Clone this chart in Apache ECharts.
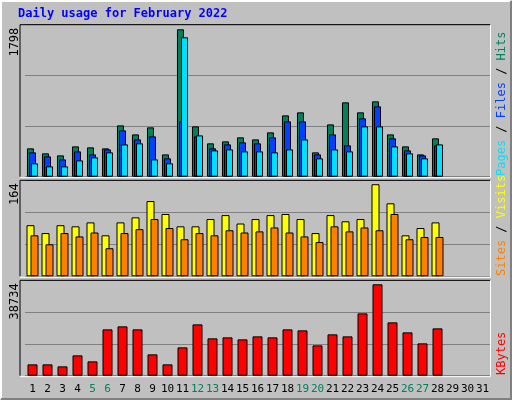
<!DOCTYPE html>
<html><head><meta charset="utf-8">
<script src="https://cdn.jsdelivr.net/npm/echarts@6/dist/echarts.min.js"></script>
<style>html,body{margin:0;padding:0;background:#c0c0c0}#c{width:512px;height:400px}</style>
</head><body><div id="c"></div>
<script>
const days = Array.from({length:31},(_,i)=>String(i+1));
const weekends = ['5','6','12','13','19','20','26','27'];
const hits  = [346,285,260,370,358,346,626,516,602,272,1798,614,407,431,480,455,541,748,785,297,638,907,785,919,516,370,272,468];
const files = [297,248,211,309,272,333,565,455,492,224,675,492,346,394,419,407,480,675,675,272,516,382,712,858,468,321,260,382];
const pages = [163,126,126,199,236,297,394,407,211,163,1700,504,321,333,309,309,297,333,455,224,333,309,614,614,370,285,224,394];
const visits= [91,77,91,89,96,73,96,105,134,111,89,89,102,109,94,102,109,111,102,77,109,98,102,164,130,73,86,96];
const sites = [73,57,77,71,78,50,77,84,102,86,66,77,73,82,78,80,87,78,71,61,89,80,87,82,111,66,70,70];
const kbytes= [4803,4803,3955,8617,6074,19635,20906,19635,9041,4803,12007,21754,15821,16245,15397,16669,16245,19635,19211,12855,17516,16669,26416,38734,22602,18364,13702,20059];
const maxLabels = ['1798','164','38734'];

const font = 'DejaVu Sans Mono';
const L=25, W=465;
const grids = [{left:L,width:W,top:24.7,height:152},{left:L,width:W,top:180.3,height:96},{left:L,width:W,top:280.3,height:95.4}];
const maxes = [1854,171,40430];
const xAxes = grids.map((g,i)=>({type:'category',gridIndex:i,data:days,
  axisLine:{show:false},axisTick:{show:false},
  axisLabel:{show:i===2,margin:8,fontFamily:font,fontSize:11,color:'#000',interval:0,
    formatter:v=>weekends.includes(v)?'{w|'+v+'}':v,rich:{w:{color:'#00805c',fontFamily:font,fontSize:11}}}}));
const yAxes = grids.map((g,i)=>({type:'value',gridIndex:i,min:0,max:maxes[i],interval:maxes[i]/3,
  axisLabel:{show:false},axisLine:{show:false},axisTick:{show:false},
  splitLine:{lineStyle:{color:'#808080',width:1}}}));
const bs = (name,data,color,ax,w,gap)=>({type:'bar',name,data,xAxisIndex:ax,yAxisIndex:ax,barWidth:w,barGap:gap,
  itemStyle:{color,borderColor:'#000',borderWidth:1},silent:true,animation:false});
const series = [
  bs('Hits',hits,'#00805c',0,7,'-71%'),
  bs('Files',files,'#0040ff',0,7,'-71%'),
  bs('Pages',pages,'#00e0ff',0,7,'-71%'),
  bs('Visits',visits,'#ffff00',1,8,'-50%'),
  bs('Sites',sites,'#ff8000',1,8,'-50%'),
  bs('KBytes',kbytes,'#ff0000',2,10,'0%')
];
const panels = [[24.7,176.7],[180.3,276.3],[280.3,375.7]];
const graphic = [
  {type:'polyline',shape:{points:[[1,399],[1,1],[511,1]]},style:{stroke:'#fff',lineWidth:2,fill:null}},
  {type:'polyline',shape:{points:[[1,399],[511,399],[511,1]]},style:{stroke:'#808080',lineWidth:2,fill:null}},
  {type:'text',left:18,top:8,style:{text:'Daily usage for February 2022',fill:'#0000ff',font:'bold 12px "DejaVu Sans Mono"'}}
];
panels.forEach((p,i)=>{
  graphic.push({type:'polyline',z:10,shape:{points:[[20,p[1]],[20,p[0]],[490.5,p[0]]]},style:{stroke:'#000',fill:null,lineWidth:1}});
  graphic.push({type:'polyline',z:10,shape:{points:[[20,p[1]+1],[490.5,p[1]+1],[490.5,p[0]]]},style:{stroke:'#fff',fill:null,lineWidth:1}});
  graphic.push({type:'text',x:9,y:p[0]+3,rotation:Math.PI/2,style:{text:maxLabels[i],fill:'#000',font:'12px "DejaVu Sans Mono"',align:'right',verticalAlign:'top'}});
});
const rt = (y,parts)=>({type:'text',x:496,y,rotation:Math.PI/2,style:{
  rich:Object.fromEntries(parts.map((p,j)=>['r'+j,{fill:p[1],font:'12px "DejaVu Sans Mono"'}])),
  text:parts.map((p,j)=>'{r'+j+'|'+p[0]+'}').join(''),align:'left',verticalAlign:'top'}});
graphic.push(rt(176,[['Pages','#00e0ff'],[' / ','#000'],['Files','#0040ff'],[' / ','#000'],['Hits','#00805c']]));
graphic.push(rt(276,[['Sites','#ff8000'],[' / ','#000'],['Visits','#ffff00']]));
graphic.push(rt(375,[['KBytes','#ff0000']]));

const chart = echarts.init(document.getElementById('c'));
chart.setOption({backgroundColor:'#c0c0c0',animation:false,
  grid:grids.map(g=>Object.assign({show:true,backgroundColor:'#c0c0c0',borderWidth:0},g)),
  xAxis:xAxes,yAxis:yAxes,series,graphic});
</script></body></html>
